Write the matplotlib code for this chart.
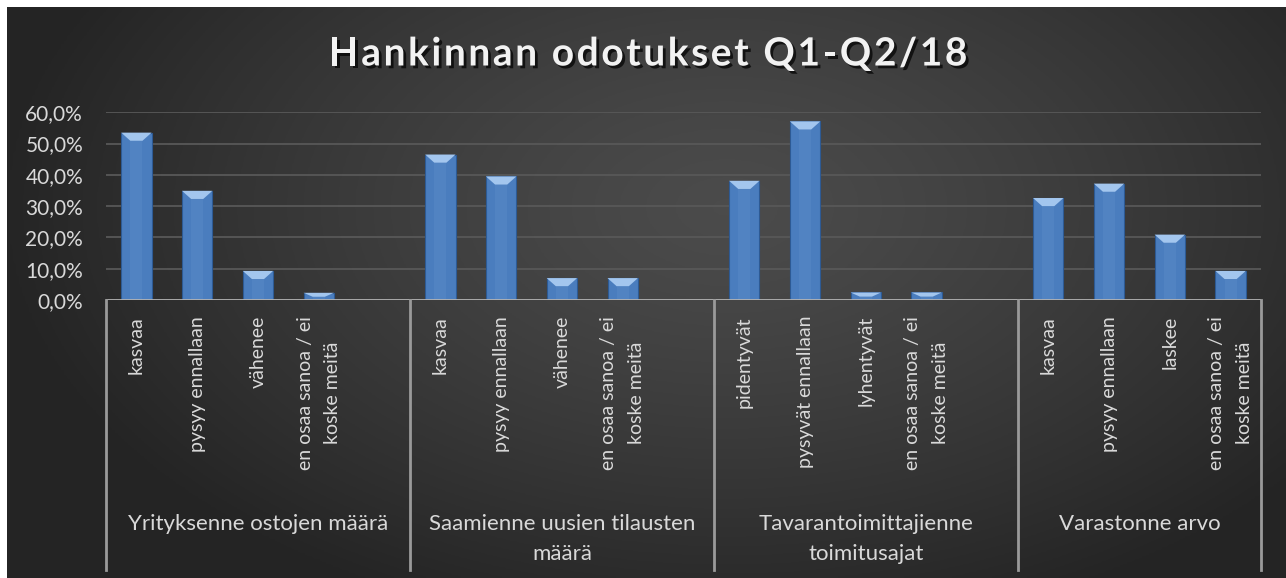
import numpy as np
import matplotlib
matplotlib.use("Agg")
import matplotlib.pyplot as plt
from matplotlib import patheffects as pe
from matplotlib.patches import Polygon
from matplotlib.transforms import blended_transform_factory

# ---------------- data ----------------
title = "Hankinnan odotukset Q1-Q2/18"
groups = ["Yrityksenne ostojen määrä",
          "Saamienne uusien tilausten\nmäärä",
          "Tavarantoimittajienne\ntoimitusajat",
          "Varastonne arvo"]
answers_g1 = ["kasvaa", "pysyy ennallaan", "vähenee", "en osaa sanoa / ei\nkoske meitä"]
answers_g2 = ["kasvaa", "pysyy ennallaan", "vähenee", "en osaa sanoa / ei\nkoske meitä"]
answers_g3 = ["pidentyvät", "pysyvät ennallaan", "lyhentyvät", "en osaa sanoa / ei\nkoske meitä"]
answers_g4 = ["kasvaa", "pysyy ennallaan", "laskee", "en osaa sanoa / ei\nkoske meitä"]
values_g1 = [53.5, 34.9, 9.3, 2.3]
values_g2 = [46.5, 39.5, 7.0, 7.0]
values_g3 = [38.1, 57.1, 2.4, 2.4]
values_g4 = [32.6, 37.2, 20.9, 9.3]
yticks = [0, 10, 20, 30, 40, 50, 60]
ytick_labels = ["0,0%", "10,0%", "20,0%", "30,0%", "40,0%", "50,0%", "60,0%"]

all_answers = [answers_g1, answers_g2, answers_g3, answers_g4]
all_values = [values_g1, values_g2, values_g3, values_g4]

# Excel layout: each group has 4 categories + 1 empty slot (except last)
cats, vals, xs = [], [], []
group_bounds = []
slot = 0
for gi, (ans, v) in enumerate(zip(all_answers, all_values)):
    start = slot
    for a, val in zip(ans, v):
        cats.append(a); vals.append(val); xs.append(slot + 0.5)
        slot += 1
    if gi < len(all_answers) - 1:
        slot += 1  # blank category
    group_bounds.append((start, slot))
n_slots = slot

FONT = "Lato"
TXT = "#d9d9d9"
FS = 14

W, H = 1286, 578
fig = plt.figure(figsize=(W / 100, H / 100), dpi=100)
fig.patch.set_facecolor("white")

# background gradient
bg = fig.add_axes([7 / W, 0, 1 - 7 / W, 1 - 7 / H])
gx = np.linspace(0, 1279, 400)
gy = np.linspace(0, 571, 200)
XX, YY = np.meshgrid(gx, gy)
r = np.sqrt(((XX - 720) / 720) ** 2 + ((YY - 200) / 430) ** 2)
t = np.clip(r, 0, 1)
lo, hi = 0.145, 0.295
val_img = hi - (hi - lo) * t ** 1.3
img = np.dstack([val_img, val_img, val_img])
bg.imshow(img, aspect="auto", extent=[0, 1, 0, 1], origin="upper")
bg.set_axis_off()

# plotting axes
x0_px, x1_px = 106, 1261
y0_px, y60_px = 300, 112.3
ax = fig.add_axes([x0_px / W, (H - y0_px) / H, (x1_px - x0_px) / W, (y0_px - y60_px) / H])
ax.set_facecolor("none")
ax.set_xlim(0, n_slots)
ax.set_ylim(0, 60)

for yv in yticks[1:]:
    ax.axhline(yv, color="#585858", lw=1.3, zorder=1)

bar_w = 0.5
ax.bar(xs, vals, width=bar_w, color="#4a7dbe", edgecolor="#2d5a94",
       linewidth=0.8, zorder=3)
for x, v in zip(xs, vals):
    xl, xr = x - bar_w / 2, x + bar_w / 2
    d = min(2.6, v * 0.55)
    ax.add_patch(Polygon([(xl, v), (xr, v), (xr - bar_w * 0.3, v - d), (xl + bar_w * 0.3, v - d)],
                         closed=True, facecolor="#a3c6ee", edgecolor="none", zorder=4))
    ax.add_patch(Polygon([(xl + bar_w * 0.3, v - d), (xr - bar_w * 0.3, v - d),
                          (xr - bar_w * 0.3, 0), (xl + bar_w * 0.3, 0)],
                         closed=True, facecolor="#5a8cc9", edgecolor="none", alpha=0.45, zorder=4))

ax.set_yticks(yticks)
ax.set_yticklabels(ytick_labels, fontsize=15, color=TXT, family=FONT)
ax.tick_params(axis="y", length=0, pad=16.5)
ax.set_xticks([])
for s in ax.spines.values():
    s.set_visible(False)
ax.axhline(0, color="#b4b4b4", lw=2, zorder=5)

tr = blended_transform_factory(ax.transData, ax.transAxes)
px_per_frac = (y0_px - y60_px)
def yfrac(py_top):
    return (y0_px - py_top) / px_per_frac

# separators
seps = [gb[0] for gb in group_bounds] + [n_slots]
for sx in seps:
    ax.plot([sx, sx], [0, yfrac(570)], transform=tr, color="#9a9a9a", lw=2,
            clip_on=False, zorder=5)

# category labels
for x, c in zip(xs, cats):
    ax.text(x, yfrac(316), c, transform=tr, rotation=90, ha="center", va="top",
            multialignment="center", fontsize=FS, color=TXT, family=FONT,
            linespacing=1.75)

# group labels
for (s, e), g in zip(group_bounds, groups):
    ax.text((s + e) / 2, yfrac(514), g, transform=tr,
            ha="center", va="top", multialignment="center", fontsize=16,
            color=TXT, family=FONT, linespacing=1.6)

# letter-spaced title
renderer = fig.canvas.get_renderer()
tprops = dict(fontsize=28, fontweight="bold", family=FONT)
def wpx(s):
    tt = fig.text(0, 0, "|" + s + "|", **tprops)
    w = tt.get_window_extent(renderer).width
    tt.remove()
    return w
base = wpx("")
prefix = [wpx(title[:i]) - base for i in range(len(title) + 1)]
spacing = 2.6
total = prefix[-1] + spacing * (len(title) - 1)
start_x = 648 - total / 2
for i, ch in enumerate(title):
    if ch == " ":
        continue
    fig.text((start_x + prefix[i] + spacing * i) / W, 1 - 54 / H, ch, ha="left", va="center",
             color="#f2f2f2", **tprops,
             path_effects=[pe.SimplePatchShadow(offset=(2, -2), shadow_rgbFace="black", alpha=0.7),
                           pe.Normal()])

fig.savefig("out.png", dpi=100, facecolor=fig.get_facecolor())
